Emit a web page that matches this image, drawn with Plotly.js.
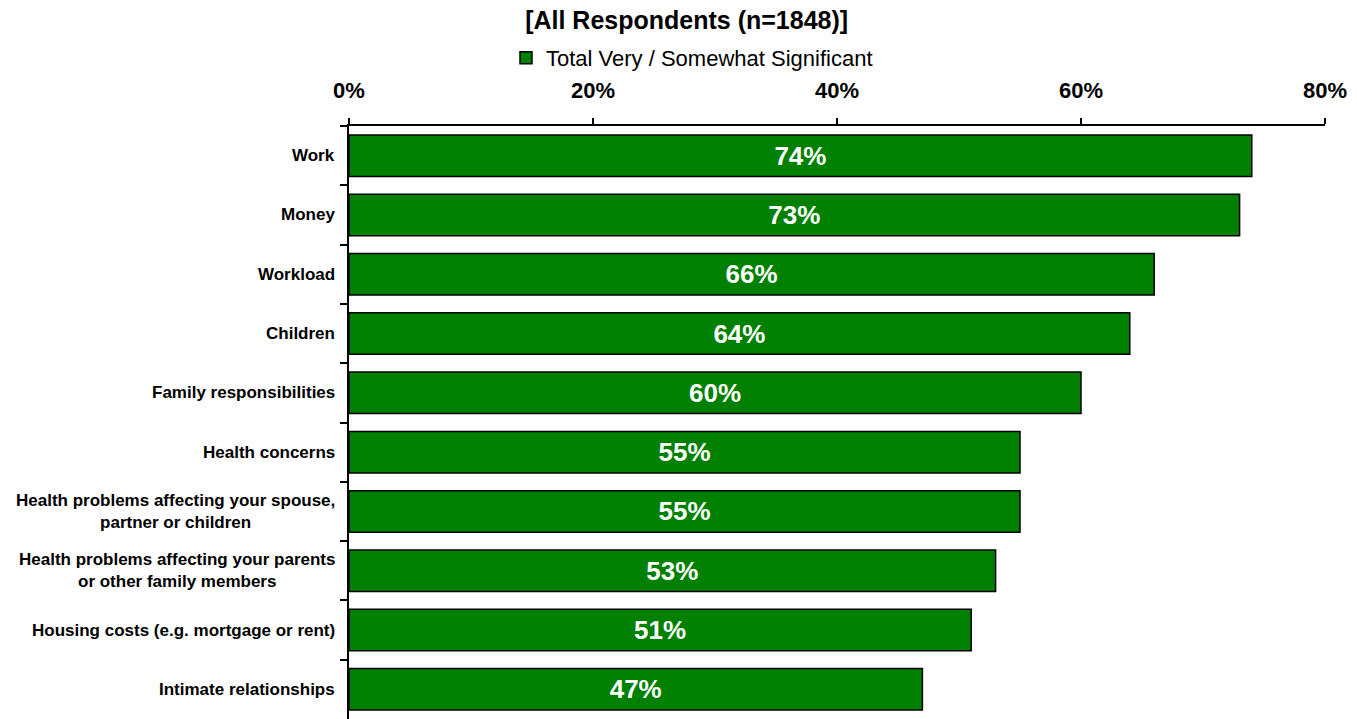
<!DOCTYPE html>
<html>
<head>
<meta charset="utf-8">
<script src="https://cdn.plot.ly/plotly-3.0.1.min.js"></script>
<style>html,body{margin:0;padding:0;background:#fff;}#chart{width:1357px;height:719px;}</style>
</head>
<body>
<div id="chart"></div>
<script>
const categories = [
  "Work",
  "Money",
  "Workload",
  "Children",
  "Family responsibilities",
  "Health concerns",
  "Health problems affecting your spouse,<br>partner or children",
  "Health problems affecting your parents<br>or other family members",
  "Housing costs (e.g. mortgage or rent)",
  "Intimate relationships"
];
const values = [74, 73, 66, 64, 60, 55, 55, 53, 51, 47];
const seriesName = "Total Very / Somewhat Significant";
const tickValues = [0, 20, 40, 60, 80];
const tickLabels = ["0%", "20%", "40%", "60%", "80%"];
const chartTitle = "[All Respondents (n=1848)]";

const FONT = "Liberation Sans, Arial, sans-serif";

const trace = {
  type: "bar",
  orientation: "h",
  name: seriesName,
  x: values,
  y: categories,
  width: 0.7,
  marker: { color: "#008000", line: { color: "#000000", width: 1.5 } },
  text: values.map(v => v + "%"),
  textposition: "inside",
  insidetextanchor: "middle",
  textfont: { family: FONT, size: 26, color: "#ffffff", weight: "bold" },
  hoverinfo: "none",
  showlegend: true
};

const annotations = categories.map(c => ({
  xref: "paper", yref: "y", x: 0, y: c,
  xanchor: "right", yanchor: "middle", xshift: -12,
  align: "center", showarrow: false,
  text: c,
  font: { family: FONT, size: 17, color: "#000000", weight: "bold" }
}));

const layout = {
  width: 1357, height: 719,
  margin: { l: 349, r: 32, t: 126, b: 0, pad: 0 },
  paper_bgcolor: "#ffffff", plot_bgcolor: "#ffffff",
  font: { family: FONT, color: "#000000" },
  title: {
    text: chartTitle,
    font: { family: FONT, size: 25, color: "#000000", weight: "bold" },
    xref: "container", x: 0.506, xanchor: "center",
    yref: "container", y: 1 - 20 / 719, yanchor: "middle"
  },
  legend: {
    orientation: "h",
    xref: "container", x: 506 / 1357, xanchor: "left",
    yref: "container", y: 1 - 58 / 719, yanchor: "middle",
    font: { family: FONT, size: 22, color: "#000000" },
    bgcolor: "rgba(0,0,0,0)"
  },
  xaxis: {
    side: "top",
    range: [0, 80],
    tickmode: "array",
    tickvals: tickValues,
    ticktext: tickLabels,
    showgrid: false, zeroline: false,
    showline: true, linecolor: "#000000", linewidth: 2,
    ticks: "outside", ticklen: 6, tickwidth: 2, tickcolor: "#000000",
    ticklabelstandoff: 11,
    tickfont: { family: FONT, size: 22, color: "#000000", weight: "bold" },
    fixedrange: true
  },
  yaxis: {
    type: "category",
    autorange: "reversed",
    showgrid: false, zeroline: false,
    showline: true, linecolor: "#000000", linewidth: 2,
    ticks: "outside", tickson: "boundaries", ticklen: 7, tickwidth: 2, tickcolor: "#000000",
    showticklabels: false,
    fixedrange: true
  },
  annotations: annotations,
  bargap: 0.3
};

Plotly.newPlot("chart", [trace], layout, { staticPlot: true, displayModeBar: false });
</script>
</body>
</html>
